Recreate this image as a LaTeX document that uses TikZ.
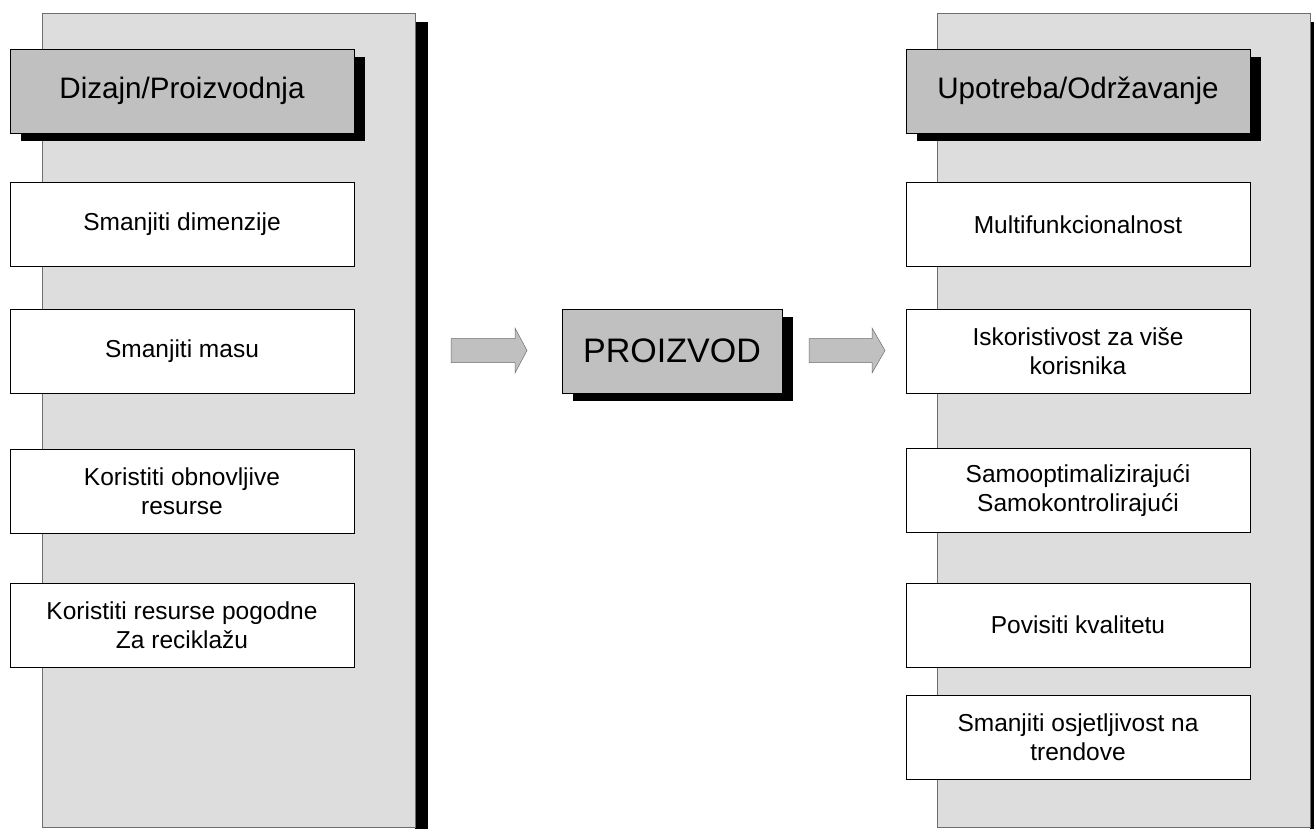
\documentclass[tikz,border=0pt]{standalone}
\usepackage{fontspec}
\setmainfont{Liberation Sans}
\usetikzlibrary{shadows}

\definecolor{panelgray}{HTML}{DDDDDD}
\definecolor{headgray}{HTML}{C0C0C0}
\definecolor{edgegray}{HTML}{6E6E6E}

\tikzset{every picture/.style={line width=0.75pt}}
\tikzset{
  item/.style={draw=black, fill=white, minimum width=344pt, minimum height=84pt,
    inner sep=0pt, align=center, font=\fontsize{24.5}{28.5}\selectfont},
  header/.style={item, fill=headgray, font=\fontsize{29.6}{35}\selectfont,
    general shadow={fill=black, shadow xshift=11pt, shadow yshift=-8pt}},
  panel/.style={draw=edgegray, fill=panelgray},
  blockarrow/.style={draw=edgegray, fill=headgray, line width=0.5pt}
}

\begin{document}
\begin{tikzpicture}[x=1pt,y=1pt,yscale=-1,xscale=1]
        \useasboundingbox (0,0) rectangle (1314,829);

        %left panel
        \fill[black] (415,22) rectangle (428,829);
        \draw[panel] (42,13.7) rectangle (415,827);
        %right panel
        \fill[black] (1310,22) rectangle (1314,829);
        \draw[panel] (937.7,13.7) rectangle (1310,827);

        %design / production
        \node[header] (dizajn) at (182,91) {Dizajn/Proizvodnja};
        \node[item] (dim) at (182,224.5) {Smanjiti dimenzije};
        \node[item] (masa) at (182,351) {Smanjiti masu};
        \node[item] (obnov) at (182,491.3) {Koristiti obnovljive\\resurse};
        \node[item] (recik) at (182,625) {Koristiti resurse pogodne\\Za reciklažu};

        %product
        \node[header, minimum width=220pt, font=\fontsize{34}{40}\selectfont] (proizvod) at (672,351) {PROIZVOD};

        %use / maintenance
        \node[header] (upotreba) at (1078,91) {Upotreba/Održavanje};
        \node[item] (multi) at (1078,224.5) {Multifunkcionalnost};
        \node[item] (korisn) at (1078,351) {Iskoristivost za više\\korisnika};
        \node[item] (samo) at (1078,490.5) {Samooptimalizirajući\\Samokontrolirajući};
        \node[item] (kval) at (1078,625) {Povisiti kvalitetu};
        \node[item] (trend) at (1078,737) {Smanjiti osjetljivost na\\trendove};

        %block arrows
        \coordinate (a1) at (451,350.5);
        \coordinate (a2) at (809,350.5);
        \draw[blockarrow] (a1) ++(0,-12) -- ++(64,0) -- ++(0,-10.5) -- ++(12,22.5) -- ++(-12,22.5) -- ++(0,-10.5) -- ++(-64,0) -- cycle;
        \draw[blockarrow] (a2) ++(0,-12) -- ++(63,0) -- ++(0,-10.5) -- ++(13,22.5) -- ++(-13,22.5) -- ++(0,-10.5) -- ++(-63,0) -- cycle;

\end{tikzpicture}
\end{document}
